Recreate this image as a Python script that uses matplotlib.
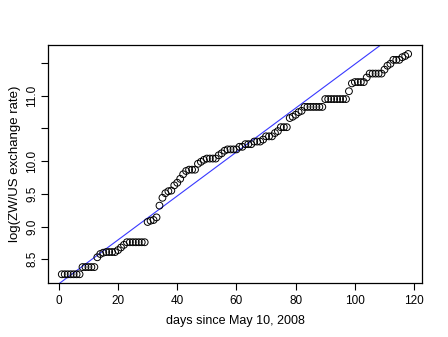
import numpy as np
import matplotlib.pyplot as plt

# log exchange rate, one value per day (days 1..118)
days = np.arange(1, 119)
log_rate = (
    [8.27] * 7 + [8.38] * 5
    + [8.53, 8.58, 8.60] + [8.61] * 4 + [8.64, 8.68, 8.72]
    + [8.76] * 7
    + [9.07, 9.09, 9.10, 9.14, 9.32, 9.44, 9.51, 9.54, 9.55, 9.63, 9.67, 9.73, 9.80, 9.85]
    + [9.87] * 3 + [9.96, 9.99, 10.02] + [10.04] * 4
    + [10.09, 10.12, 10.16] + [10.18] * 4 + [10.22] * 2 + [10.26] * 3
    + [10.30] * 3 + [10.33] + [10.38] * 3 + [10.43, 10.46] + [10.52] * 3
    + [10.66, 10.68, 10.71, 10.75, 10.77] + [10.83] * 7 + [10.95] * 8
    + [11.07, 11.19] + [11.21] * 4 + [11.28] + [11.34] * 5
    + [11.40, 11.46, 11.49] + [11.55] * 3 + [11.59, 11.61, 11.64]
)
log_rate = np.array(log_rate)

# fitted line as drawn in the chart
fit_intercept = 8.124
fit_slope = 0.0336

xticks = [0, 20, 40, 60, 80, 100, 120]
yticks = [8.5, 9.0, 9.5, 10.0, 10.5, 11.0, 11.5]
ytick_labels = ['8.5', '9.0', '9.5', '10.0', '', '11.0', '']

plt.rcParams['font.family'] = ['Liberation Sans', 'DejaVu Sans']

fig = plt.figure(figsize=(4.48, 3.37), dpi=100)
ax = fig.add_axes([0.107, 0.160, 0.835, 0.706])

ax.scatter(days, log_rate, s=24, facecolors='none', edgecolors='black', linewidths=0.7, zorder=3)
ax.axline((0, fit_intercept), slope=fit_slope, color='#3838ff', linewidth=0.8, zorder=2)

# R-style 4% padding
rx = days.max() - days.min()
ry = log_rate.max() - log_rate.min()
ax.set_xlim(days.min() - 0.04 * rx, days.max() + 0.04 * rx)
ax.set_ylim(log_rate.min() - 0.04 * ry, log_rate.max() + 0.04 * ry)

ax.set_xticks(xticks)
ax.set_yticks(yticks)
ax.set_yticklabels(ytick_labels, rotation=90, va='center')
ax.tick_params(length=5, width=0.8, labelsize=8.5, colors='black')
ax.tick_params(axis='y', pad=2)

for s in ax.spines.values():
    s.set_linewidth(0.9)

ax.set_xlabel('days since May 10, 2008', fontsize=9, labelpad=6)
ax.set_ylabel('log(ZW/US exchange rate)', fontsize=9.5, labelpad=4)

fig.savefig('out.png', dpi=100)
